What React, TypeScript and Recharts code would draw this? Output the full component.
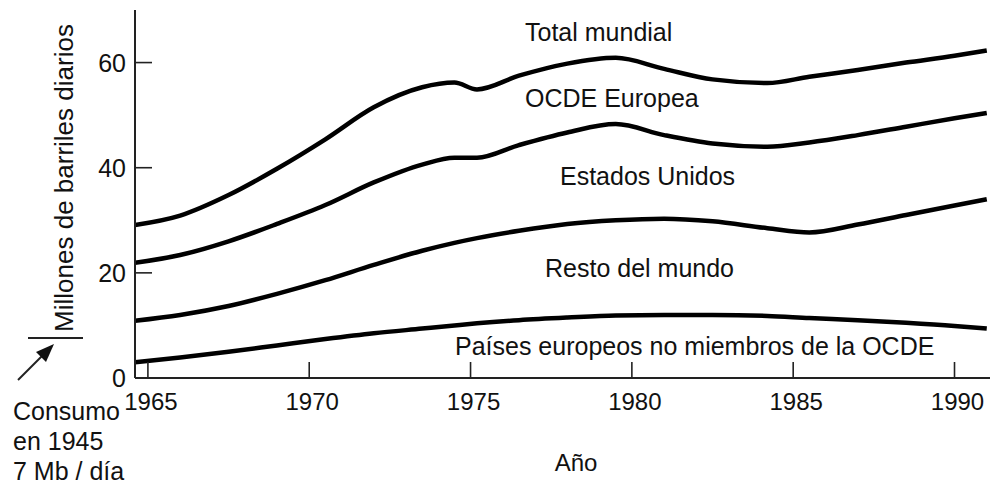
import { LineChart, Line, XAxis, YAxis } from "recharts";

// Años (eje X) y límites acumulados de cada banda (millones de barriles diarios)
const years = [1964.6, 1966, 1967.5, 1969, 1970.5, 1972, 1973.5, 1974.5, 1975.2, 1976.5, 1978, 1979.5, 1981, 1982.5, 1984.2, 1985.5, 1987, 1988.5, 1990, 1991];
const totalMundial = [29.1, 30.9, 34.8, 39.8, 45.4, 51.5, 55.3, 56.2, 54.9, 57.5, 59.8, 60.9, 58.8, 56.8, 56.1, 57.3, 58.6, 60.0, 61.3, 62.3];
const limiteOcdeEuropea = [21.9, 23.4, 26.0, 29.3, 32.9, 37.2, 40.6, 41.9, 41.9, 44.3, 46.7, 48.3, 46.2, 44.6, 44.0, 44.8, 46.2, 47.8, 49.4, 50.4];
const limiteEstadosUnidos = [10.9, 12.0, 13.7, 16.0, 18.6, 21.5, 24.2, 25.7, 26.6, 28.0, 29.3, 30.0, 30.3, 29.8, 28.5, 27.7, 29.2, 31.0, 32.8, 34.0];
const limiteRestoMundo = [3.0, 3.9, 5.0, 6.2, 7.4, 8.5, 9.4, 10.0, 10.4, 11.0, 11.5, 11.9, 12.0, 12.0, 11.8, 11.4, 11.0, 10.5, 9.9, 9.4];

const xTicks = [1965, 1970, 1975, 1980, 1985, 1990];
const yTicks = [0, 20, 40, 60];

const FONT = "'Liberation Sans', Arial, Helvetica, sans-serif";

const data = years.map((year, i) => ({
  year,
  total: totalMundial[i],
  ocde: limiteOcdeEuropea[i],
  eeuu: limiteEstadosUnidos[i],
  resto: limiteRestoMundo[i],
}));

function XTick({ x, y, payload }: any) {
  return (
    <g>
      <line x1={x} x2={x} y1={y} y2={y - 16} stroke="#222" strokeWidth={1.6} />
      <text x={x + 3} y={y + 32} textAnchor="middle" fontSize={24} fontFamily={FONT} fill="#111">
        {payload.value}
      </text>
    </g>
  );
}

function YTick({ x, y, payload }: any) {
  return (
    <g>
      {payload.value !== 0 && (
        <line x1={x} x2={x + 17} y1={y} y2={y} stroke="#222" strokeWidth={1.6} />
      )}
      <text x={x - 9} y={y + 9} textAnchor="end" fontSize={25} fontFamily={FONT} fill="#111">
        {payload.value}
      </text>
    </g>
  );
}

const lineProps = {
  type: "monotone" as const,
  stroke: "#000",
  strokeWidth: 4.5,
  dot: false,
  activeDot: false,
  isAnimationActive: false,
};

export default function App() {
  const labelStyle = { fontSize: 25, fontFamily: FONT, fill: "#111" };
  return (
    <div style={{ position: "absolute", left: 0, top: 0, width: 991, height: 488, background: "#fff" }}>
      <LineChart width={991} height={488} data={data} margin={{ top: 10, right: 1, bottom: 0, left: 0 }}>
        <XAxis
          dataKey="year"
          type="number"
          domain={[1964.6, 1991.1]}
          ticks={xTicks}
          allowDataOverflow
          height={110}
          tickSize={0}
          tickMargin={0}
          tickLine={false}
          axisLine={{ stroke: "#222", strokeWidth: 2 }}
          tick={<XTick />}
        />
        <YAxis
          type="number"
          domain={[0, 70]}
          ticks={yTicks}
          allowDataOverflow
          width={135}
          tickSize={0}
          tickMargin={0}
          tickLine={false}
          axisLine={{ stroke: "#222", strokeWidth: 2 }}
          tick={<YTick />}
        />
        <Line dataKey="total" {...lineProps} />
        <Line dataKey="ocde" {...lineProps} />
        <Line dataKey="eeuu" {...lineProps} />
        <Line dataKey="resto" {...lineProps} />
      </LineChart>
      <svg width={991} height={488} style={{ position: "absolute", left: 0, top: 0, pointerEvents: "none" }}>
        <text x={525} y={41} {...labelStyle}>Total mundial</text>
        <text x={525} y={107} {...labelStyle}>OCDE Europea</text>
        <text x={560} y={185} {...labelStyle}>Estados Unidos</text>
        <text x={545} y={277} {...labelStyle}>Resto del mundo</text>
        <text x={455} y={355} {...labelStyle}>Países europeos no miembros de la OCDE</text>
        <text x={576} y={471} textAnchor="middle" {...labelStyle} fontSize={24}>Año</text>
        <text
          x={73}
          y={178}
          textAnchor="middle"
          transform="rotate(-90, 73, 178)"
          {...labelStyle}
          fontSize={26}
        >
          Millones de barriles diarios
        </text>
        <line x1={28} x2={83} y1={338} y2={338} stroke="#222" strokeWidth={2} />
        <line x1={18} y1={380} x2={44} y2={354} stroke="#222" strokeWidth={2} />
        <polygon points="54,344 36,352 46,362" fill="#111" />
        <text x={13} y={420} {...labelStyle}>Consumo</text>
        <text x={13} y={450} {...labelStyle}>en 1945</text>
        <text x={13} y={480} {...labelStyle}>7 Mb / día</text>
      </svg>
    </div>
  );
}
